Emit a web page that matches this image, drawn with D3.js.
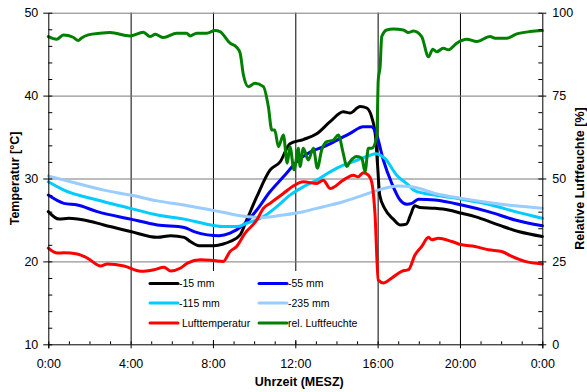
<!DOCTYPE html>
<html><head><meta charset="utf-8">
<script src="https://cdn.jsdelivr.net/npm/d3@7"></script>
<style>body{margin:0;background:#fff}svg{display:block;font-family:Arial,"Liberation Sans",sans-serif}</style>
</head><body><svg id="c" width="587" height="392"></svg>
<script>
// ---- data ----
const xTicks = [0, 4, 8, 12, 16, 20, 24];
const xTickLabels = ["0:00", "4:00", "8:00", "12:00", "16:00", "20:00", "0:00"];
const tempTicks = [10, 20, 30, 40, 50];
const humTicks = [0, 25, 50, 75, 100];
const seriesNames = ["-15 mm", "-55 mm", "-115 mm", "-235 mm", " Lufttemperatur", "rel. Luftfeuchte"];
const seriesColors = ["#000000", "#0000ff", "#00ccff", "#99ccff", "#ff0000", "#008000"];

const t15 = [0, 0.52, 1.0, 1.73, 2.7, 4.0, 5.3, 5.95, 6.6, 6.9, 7.32, 8.05, 8.5, 8.83, 9.32, 9.64, 10.13, 10.77, 11.26, 11.74, 12.39, 13.04, 13.69, 14.33, 14.66, 15.15, 15.47, 15.7, 15.9, 16.0, 16.1, 16.36, 16.76, 17.09, 17.4, 17.6, 17.8, 18.06, 18.79, 19.44, 20.09, 20.73, 21.87, 22.84, 24];
const v15 = [26.0, 25.1, 25.2, 25.0, 24.4, 23.6, 22.9, 23.1, 22.9, 22.4, 21.9, 21.9, 22.1, 22.4, 23.2, 25.0, 27.8, 31.0, 32.0, 34.2, 34.7, 35.4, 36.85, 38.06, 37.9, 38.7, 38.5, 37.5, 35.0, 31.5, 28.0, 26.3, 25.1, 24.4, 24.5, 25.6, 26.7, 26.5, 26.4, 26.2, 25.8, 25.4, 24.4, 23.6, 23.0];

const t55 = [0, 0.76, 1.41, 2.38, 4.0, 5.3, 6.6, 7.08, 7.73, 8.3, 8.83, 9.48, 10.13, 10.77, 11.42, 12.07, 12.72, 13.36, 14.01, 14.66, 15.3, 15.7, 15.96, 16.28, 16.69, 17.09, 17.41, 17.66, 17.98, 18.79, 20.09, 21.38, 22.68, 24];
const v55 = [28.0, 27.0, 26.8, 26.0, 25.1, 24.4, 24.1, 23.6, 23.2, 23.1, 23.4, 24.4, 26.2, 28.4, 30.2, 32.0, 33.2, 33.8, 34.6, 35.45, 36.25, 36.25, 35.2, 32.2, 29.4, 27.4, 26.9, 27.0, 27.5, 27.4, 26.8, 26.0, 25.0, 24.3];

const t115 = [0, 0.76, 2.38, 4.0, 5.3, 6.6, 7.9, 8.54, 9.15, 9.64, 10.45, 11.1, 11.74, 12.39, 13.04, 13.69, 14.33, 14.99, 15.63, 15.9, 16.36, 16.93, 17.5, 17.82, 18.79, 20.09, 21.38, 22.68, 24];
const v115 = [29.6, 28.6, 27.4, 26.4, 25.6, 25.1, 24.4, 24.2, 24.2, 24.6, 25.4, 26.6, 28.0, 29.0, 29.8, 30.8, 31.6, 32.2, 32.8, 33.0, 32.4, 30.4, 29.2, 28.5, 28.0, 27.5, 26.9, 26.0, 25.2];

const t235 = [0, 1.41, 2.7, 4.0, 5.3, 6.6, 7.9, 8.54, 9.32, 10.45, 11.42, 12.39, 13.36, 14.33, 15.3, 16.03, 17.0, 17.66, 18.79, 20.09, 21.38, 22.68, 24];
const v235 = [30.3, 29.4, 28.6, 28.0, 27.3, 26.8, 26.2, 25.9, 25.5, 25.3, 25.6, 26.0, 26.6, 27.2, 28.0, 28.6, 29.1, 29.0, 28.2, 27.6, 27.1, 26.7, 26.4];

const tAir = [0, 0.44, 0.76, 1.41, 1.9, 2.55, 2.87, 3.68, 4.49, 5.14, 5.62, 5.95, 6.43, 6.76, 7.4, 8.05, 8.5, 8.83, 9.15, 9.56, 10.13, 10.45, 10.77, 11.42, 11.9, 12.39, 13.04, 13.36, 13.69, 14.33, 14.82, 15.05, 15.3, 15.55, 15.71, 15.87, 16.03, 16.28, 16.69, 17.17, 17.5, 17.82, 18.14, 18.47, 18.63, 18.95, 19.6, 20.09, 20.73, 21.38, 22.03, 22.52, 23.16, 24];
const vAir = [21.6, 21.0, 21.05, 20.9, 20.4, 19.45, 19.7, 19.45, 18.8, 19.0, 19.3, 18.85, 19.2, 19.8, 20.2, 20.1, 20.0, 21.2, 21.8, 23.4, 25.0, 26.4, 27.0, 28.2, 29.1, 29.6, 29.4, 29.8, 28.8, 29.8, 30.4, 30.2, 30.7, 30.4, 29.6, 25.8, 17.75, 17.4, 18.0, 18.8, 19.0, 20.8, 21.8, 22.9, 22.6, 22.8, 22.4, 22.0, 21.8, 21.4, 21.2, 20.6, 20.0, 19.7];

const tHum = [0, 0.41, 0.73, 1.21, 1.46, 1.6, 1.94, 2.51, 3.0, 3.97, 4.62, 4.94, 5.2, 5.59, 6.24, 6.72, 6.89, 7.21, 7.7, 8.1, 8.34, 8.83, 9.15, 9.32, 9.48, 9.72, 10.04, 10.45, 10.69, 10.86, 11.0, 11.18, 11.42, 11.61, 11.74, 11.94, 12.15, 12.23, 12.39, 12.63, 12.88, 13.07, 13.28, 13.53, 13.85, 14.09, 14.33, 14.5, 14.66, 14.99, 15.23, 15.39, 15.55, 15.71, 15.96, 16.03, 16.12, 16.2, 16.44, 16.76, 17.25, 17.49, 17.74, 18.14, 18.47, 18.68, 18.87, 19.19, 19.44, 19.84, 20.33, 20.82, 21.46, 21.71, 22.27, 22.76, 23.41, 24];
const vHum = [92.8, 92.0, 93.3, 92.6, 91.6, 92.3, 93.3, 93.8, 94.0, 93.0, 94.1, 92.8, 93.5, 92.5, 93.8, 93.8, 93.0, 93.8, 93.8, 94.6, 94.3, 90.8, 89.6, 87.8, 81.2, 77.7, 78.7, 77.7, 71.7, 64.6, 64.6, 59.6, 63.1, 54.6, 59.6, 52.6, 59.1, 53.6, 59.1, 55.6, 59.1, 53.1, 58.6, 61.1, 61.6, 63.1, 57.6, 53.6, 55.1, 56.6, 56.1, 52.1, 59.1, 59.1, 62.6, 79.7, 83.7, 92.8, 94.8, 95.1, 94.8, 94.0, 94.5, 92.8, 86.7, 89.0, 88.2, 89.3, 88.8, 90.8, 92.0, 91.3, 92.8, 92.3, 92.3, 93.6, 94.3, 94.6];

// ---- chart ----
const L = 48.3, R = 542.3, T = 12.7, B = 344.3;
const svg = d3.select("#c");
const x = d3.scaleLinear().domain([0, 24]).range([L, R]);
const yT = d3.scaleLinear().domain([10, 50]).range([B, T]);
const yH = d3.scaleLinear().domain([0, 100]).range([B, T]);

// gridlines
svg.append("g").attr("transform", `translate(0,${B})`)
  .call(d3.axisBottom(x).tickValues(xTicks.slice(1, -1)).tickSize(-(B - T)).tickFormat(""))
  .call(g => { g.select(".domain").remove(); g.selectAll("line").attr("stroke", "#000").attr("stroke-width", 1); });
svg.append("g").attr("transform", `translate(${L},0)`)
  .call(d3.axisLeft(yT).tickValues(tempTicks.slice(1)).tickSize(-(R - L)).tickFormat(""))
  .call(g => { g.select(".domain").remove(); g.selectAll("line").attr("stroke", "#7a7a7a").attr("stroke-width", 1); });

// legend background
svg.append("rect").attr("x", 138).attr("y", 271).attr("width", 234).attr("height", 69).attr("fill", "#fff");

// lines
const series = [
  {t: t15, v: v15, y: yT}, {t: t55, v: v55, y: yT}, {t: t115, v: v115, y: yT},
  {t: t235, v: v235, y: yT}, {t: tAir, v: vAir, y: yT}, {t: tHum, v: vHum, y: yH}
];
series.forEach((s, i) => {
  const pts = s.t.map((t, k) => [t, s.v[k]]);
  const line = d3.line().x(d => x(d[0])).y(d => s.y(d[1])).curve(d3.curveMonotoneX);
  svg.append("path").attr("d", line(pts)).attr("fill", "none")
    .attr("stroke", seriesColors[i]).attr("stroke-width", 3)
    .attr("stroke-linejoin", "round").attr("stroke-linecap", "round");
});

// minor ticks
const minorX = d3.range(0, 25, 1);
svg.append("g").attr("transform", `translate(0,${B})`)
  .call(d3.axisBottom(x).tickValues(minorX).tickSizeInner(-3).tickSizeOuter(0).tickFormat(""))
  .call(g => g.select(".domain").remove());
svg.append("g").attr("transform", `translate(${L},0)`)
  .call(d3.axisLeft(yT).tickValues(d3.range(10, 51, 2)).tickSizeInner(-4).tickSizeOuter(0).tickFormat(""))
  .call(g => g.select(".domain").remove());
svg.append("g").attr("transform", `translate(${R},0)`)
  .call(d3.axisRight(yH).tickValues(d3.range(0, 101, 5)).tickSizeInner(-4).tickSizeOuter(0).tickFormat(""))
  .call(g => g.select(".domain").remove());

// main axes
const fs = "12.5px";
svg.append("g").attr("transform", `translate(0,${B})`)
  .call(d3.axisBottom(x).tickValues(xTicks).tickSize(4).tickPadding(11).tickFormat((d, i) => xTickLabels[i]))
  .call(g => { g.selectAll("text").attr("font-size", fs).attr("font-family", null).attr("fill", "#000"); g.selectAll("path,line").attr("stroke", "#000"); });
svg.append("g").attr("transform", `translate(${L},0)`)
  .call(d3.axisLeft(yT).tickValues(tempTicks).tickSize(5).tickSizeOuter(0).tickPadding(5))
  .call(g => { g.selectAll("text").attr("font-size", fs).attr("font-family", null).attr("fill", "#000"); g.selectAll("path,line").attr("stroke", "#000"); });
svg.append("g").attr("transform", `translate(${R},0)`)
  .call(d3.axisRight(yH).tickValues(humTicks).tickSize(4).tickSizeOuter(0).tickPadding(6))
  .call(g => { g.selectAll("text").attr("font-size", fs).attr("font-family", null).attr("fill", "#000"); g.selectAll("path,line").attr("stroke", "#000"); });

// axis titles
svg.append("text").attr("x", (L + R) / 2 + 4).attr("y", 386).attr("text-anchor", "middle")
  .attr("font-size", "12.5px").attr("font-weight", "bold").text("Uhrzeit (MESZ)");
svg.append("text").attr("transform", `translate(19,${(T + B) / 2}) rotate(-90)`).attr("text-anchor", "middle")
  .attr("font-size", "12.5px").attr("font-weight", "bold").text("Temperatur [°C]");
svg.append("text").attr("transform", `translate(583.5,${(T + B) / 2}) rotate(-90)`).attr("text-anchor", "middle")
  .attr("font-size", "12.5px").attr("font-weight", "bold").text("Relative Luftfeuchte [%]");

// legend
const legX = [150, 259], legY = [283.5, 303, 323];
seriesNames.forEach((n, i) => {
  const cx = legX[i % 2], cy = legY[Math.floor(i / 2)];
  svg.append("line").attr("x1", cx).attr("x2", cx + 28).attr("y1", cy).attr("y2", cy)
    .attr("stroke", seriesColors[i]).attr("stroke-width", 3).attr("stroke-linecap", "round");
  svg.append("text").attr("x", cx + 29).attr("y", cy).attr("dy", "0.35em")
    .attr("font-size", "10.5px").style("white-space", "pre").text(n);
});
</script></body></html>
